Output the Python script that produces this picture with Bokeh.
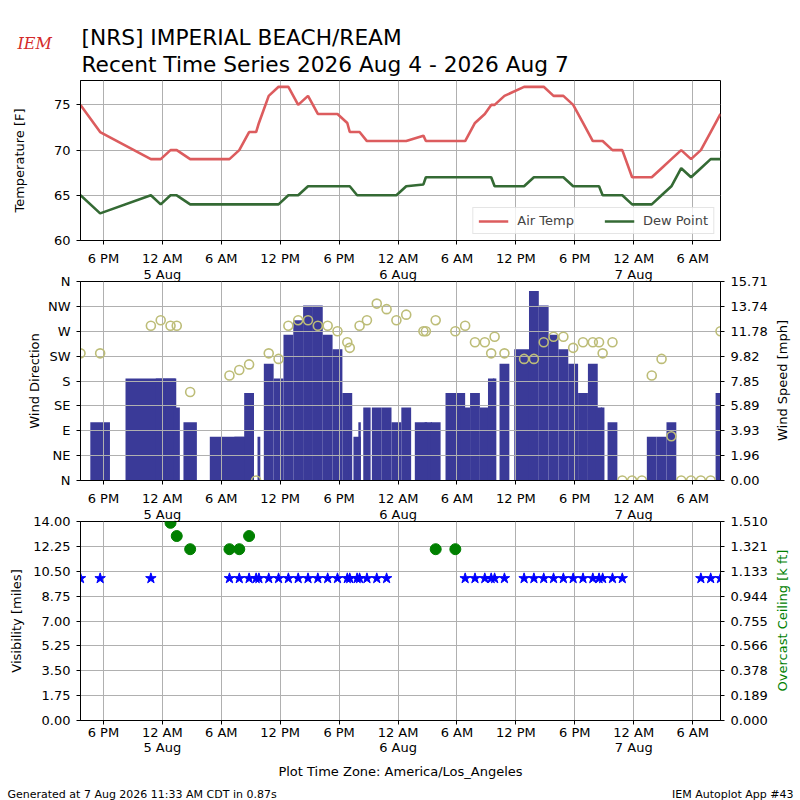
import numpy as np
import pandas as pd
from bokeh.plotting import figure
from bokeh.models import (Range1d, LinearAxis, DatetimeAxis, FixedTicker, PrintfTickFormatter,
                          ColumnDataSource)
from bokeh.layouts import column, row
from bokeh.embed import file_html
from bokeh.resources import INLINE
from bokeh.core.properties import value

nan = float("nan")

# ---------------- texts ----------------
station_title = "[NRS] IMPERIAL BEACH/REAM"
period_title = "Recent Time Series 2026 Aug 4 - 2026 Aug 7"
footer_left = "Generated at 7 Aug 2026 11:33 AM CDT in 0.87s"
footer_right = "IEM Autoplot App #43"
timezone_label = "Plot Time Zone: America/Los_Angeles"

# ---------------- observations (local time) ----------------
obs_time = [
    "2026-08-04 15:40", "2026-08-04 17:40", "2026-08-04 22:50", "2026-08-04 23:50",
    "2026-08-05 00:50", "2026-08-05 01:28", "2026-08-05 02:50", "2026-08-05 06:50",
    "2026-08-05 07:50", "2026-08-05 08:50", "2026-08-05 09:33", "2026-08-05 09:50",
    "2026-08-05 10:50", "2026-08-05 11:50", "2026-08-05 12:50", "2026-08-05 13:50",
    "2026-08-05 14:50", "2026-08-05 15:50", "2026-08-05 16:50", "2026-08-05 17:50",
    "2026-08-05 18:50", "2026-08-05 19:05", "2026-08-05 19:50", "2026-08-05 20:05",
    "2026-08-05 20:50", "2026-08-05 21:50", "2026-08-05 22:50", "2026-08-05 23:50",
    "2026-08-06 00:50", "2026-08-06 02:35", "2026-08-06 02:50", "2026-08-06 03:50",
    "2026-08-06 05:50", "2026-08-06 06:50", "2026-08-06 07:50", "2026-08-06 08:50",
    "2026-08-06 09:29", "2026-08-06 09:50", "2026-08-06 10:50", "2026-08-06 12:50",
    "2026-08-06 13:50", "2026-08-06 14:50", "2026-08-06 15:50", "2026-08-06 16:50",
    "2026-08-06 17:50", "2026-08-06 18:50", "2026-08-06 19:50", "2026-08-06 20:28",
    "2026-08-06 20:50", "2026-08-06 21:50", "2026-08-06 22:50", "2026-08-06 23:50",
    "2026-08-07 00:50", "2026-08-07 01:50", "2026-08-07 02:50", "2026-08-07 03:50",
    "2026-08-07 04:50", "2026-08-07 05:50", "2026-08-07 06:50", "2026-08-07 07:50",
    "2026-08-07 08:50",
]
air_temp = [
    75, 72, 69, 69, 70, 70, 69, 69, 70, 72, 72, 73, 76, 77, 77, 75,
    76, 74, 74, 74, 73, 72, 72, 72, 71, 71, 71, 71, 71, 71.6, 71, 71,
    71, 71, 73, 74, 75, 75, 76, 77, 77, 77, 76, 76, 75, 73, 71, 71,
    71, 70, 70, 67, 67, 67, 68, 69, 70, 69, 70, 72, 74,
]
dew_point = [
    65, 63, 65, 64, 65, 65, 64, 64, 64, 64, 64, 64, 64, 64, 65, 65,
    66, 66, 66, 66, 66, 66, 65, 65, 65, 65, 65, 65, 66, 66.2, 67, 67,
    67, 67, 67, 67, 67, 66, 66, 66, 67, 67, 67, 67, 66, 66, 66, 66,
    65, 65, 65, 64, 64, 64, 65, 66, 68, 67, 68, 69, 69,
]
wind_dir = [
    230, 230, 280, 290, 280, 280, 160, 190, 200, 210, 0, nan, 230, 220, 280, 290,
    290, 280, 280, 270, 250, 240, nan, 280, 290, 320, 310, 290, 300, 270, 270, 290,
    270, 280, 250, 250, 230, 260, 230, 220, 220, 250, 260, 260, 240, 250, 250, 250,
    230, 250, 0, 0, 0, 190, 220, 80, 0, 0, 0, 0, 270,
]
wind_speed_kt = [
    4, 4, 7, 7, 7, 5, 4, 3, 3, 6, 0, 3, 8, 7, 10, 11,
    12, 12, 10, 9, 6, 5, 3, 4, 5, 5, 5, 4, 5, 4, 4, 4,
    6, 5, 6, 5, 7, 7, 8, 9, 13, 12, 10, 9, 8, 6, 8, 5,
    5, 4, 0, 0, 0, 3, 3, 4, 0, 0, 0, 0, 6,
]
visibility_mi = [
    10, 10, 10, nan, nan, nan, nan, 10, 10, 10, 10, 10, 10, 10, 10, 10,
    10, 10, 10, 10, 10, 10, 10, 10, 10, 10, 10, nan, nan, nan, nan, nan,
    nan, 10, 10, 10, 10, 10, 10, 10, 10, 10, 10, 10, 10, 10, 10, 10,
    10, 10, 10, nan, nan, nan, nan, nan, nan, nan, 10, 10, 10,
]
ceiling_kft = [
    nan, nan, nan, nan, 1.5, 1.4, 1.3, 1.3, 1.3, 1.4, nan, nan, nan, nan, nan, nan,
    nan, nan, nan, nan, nan, nan, nan, nan, nan, nan, nan, nan, nan, nan, nan, 1.3,
    1.3, nan, nan, nan, nan, nan, nan, nan, nan, nan, nan, nan, nan, nan, nan, nan,
    nan, nan, nan, nan, nan, nan, nan, nan, nan, nan, nan, nan, nan,
]

# ---------------- axis ticks ----------------
x_tick_times = ["2026-08-04 18:00", "2026-08-05 00:00", "2026-08-05 06:00", "2026-08-05 12:00",
                "2026-08-05 18:00", "2026-08-06 00:00", "2026-08-06 06:00", "2026-08-06 12:00",
                "2026-08-06 18:00", "2026-08-07 00:00", "2026-08-07 06:00"]
x_tick_labels = ["6 PM", "12 AM\n5 Aug", "6 AM", "12 PM", "6 PM", "12 AM\n6 Aug", "6 AM",
                 "12 PM", "6 PM", "12 AM\n7 Aug", "6 AM"]
temp_ticks = [60, 65, 70, 75]
temp_limits = [60, 77.7]
dir_ticks = [0, 45, 90, 135, 180, 225, 270, 315, 360]
dir_labels = ["N", "NE", "E", "SE", "S", "SW", "W", "NW", "N"]
vis_limits = [0, 14]
ceil_limits = [0, 1.5102]

KT_TO_MPH = 1.150779

# ---------------- derived ----------------
t = pd.to_datetime(obs_time)
t_ms = (t.astype("int64") // 10**6).to_numpy().astype(float)
spd_mph = np.array(wind_speed_kt, dtype=float) * KT_TO_MPH
wind_max = float(np.nanmax(spd_mph) * 1.05)
tick_ms = [int(v) for v in (pd.to_datetime(x_tick_times).astype("int64") // 10**6)]
# labels shown above a panel are bottom-anchored: pad one-line labels to two lines
padded_labels = [lab if "\n" in lab else lab + "\n " for lab in x_tick_labels]

src = ColumnDataSource(dict(
    t=t_ms,
    temp=np.array(air_temp, dtype=float),
    dew=np.array(dew_point, dtype=float),
    drct=np.array(wind_dir, dtype=float),
    vis=np.array(visibility_mi, dtype=float),
    ceil=np.array(ceiling_kft, dtype=float),
))
bar_src = ColumnDataSource(dict(
    t=t_ms[1:],
    w=np.diff(t_ms),
    spd=spd_mph[1:],
))

FONT = "DejaVu Sans"
W = 800
SIDE_W = 30
BORDER_L = 80
x_range = Range1d(t_ms[0], t_ms[-1])


def no_align(p):
    try:
        p.frame_align = False
    except Exception:
        pass


def style_axis(ax, standoff_label=6):
    ax.axis_line_color = "black"
    ax.major_tick_line_color = "black"
    ax.minor_tick_line_color = None
    ax.major_tick_out = 4
    ax.major_tick_in = 0
    ax.major_label_standoff = standoff_label
    ax.major_label_text_font = FONT
    ax.major_label_text_font_size = "13px"
    ax.major_label_text_color = "black"
    ax.axis_label_text_font = FONT
    ax.axis_label_text_font_size = "13px"
    ax.axis_label_text_font_style = "normal"
    ax.axis_label_text_color = "black"


def make_panel(width, height, y_range, top, bottom, show_x_labels):
    p = figure(width=width, height=height, x_range=x_range, y_range=y_range,
               x_axis_type="datetime", output_backend="svg", toolbar_location=None,
               title=None, min_border_left=BORDER_L, min_border_right=width - W + BORDER_L,
               min_border_top=top, min_border_bottom=bottom)
    no_align(p)
    p.outline_line_color = "black"
    p.outline_line_alpha = 1
    p.outline_line_width = 1
    xa = p.below[0]
    xa.ticker = FixedTicker(ticks=tick_ms)
    style_axis(xa, 0)
    if show_x_labels:
        xa.major_label_overrides = dict(zip(tick_ms, x_tick_labels))
    else:
        xa.major_label_overrides = {tk: "" for tk in tick_ms}
        xa.major_label_text_font_size = "0px"
    try:
        xa.major_label_text_line_height = 1.05
    except Exception:
        pass
    p.xgrid[0].ticker = xa.ticker
    for g in (p.xgrid[0], p.ygrid[0]):
        g.grid_line_color = "#b0b0b0"
        g.grid_line_width = 1
        g.grid_line_alpha = 1
    return p, xa


def add_upper_time_labels(p):
    """Time labels of the panel above, drawn in the gap above this panel."""
    ax = DatetimeAxis(ticker=FixedTicker(ticks=tick_ms),
                      major_label_overrides=dict(zip(tick_ms, padded_labels)))
    style_axis(ax, 0)
    ax.axis_line_color = None
    ax.major_tick_line_color = None
    ax.major_tick_out = 0
    try:
        ax.major_label_text_line_height = 1.05
    except Exception:
        pass
    p.add_layout(ax, "above")


def blank_fig(width, height):
    f = figure(width=width, height=height, x_range=Range1d(0, width), y_range=Range1d(0, height),
               output_backend="svg", toolbar_location=None, title=None, min_border=0,
               min_border_left=0, min_border_right=0, min_border_top=0, min_border_bottom=0,
               x_axis_location=None, y_axis_location=None)
    no_align(f)
    f.outline_line_color = None
    f.grid.visible = False
    return f


def side_title(height, text, y_center, color):
    """Right-hand axis title, reading bottom to top."""
    s = blank_fig(SIDE_W, height)
    s.text(x=[12], y=[y_center], text=[text], angle=np.pi / 2, text_font=value(FONT),
           text_font_size=value("13px"), text_color=color, text_align="center",
           text_baseline="middle")
    return s


# ---------------- header ----------------
hdr = blank_fig(W, 77)
hdr.text(x=[81, 81], y=[39.7, 13.0], text=[station_title, period_title],
         text_font=value(FONT), text_font_size=value("21.7px"), text_color="black",
         text_align="left", text_baseline="alphabetic")
hdr.text(x=[17], y=[34], text=["IEM"], text_font=value("DejaVu Serif"),
         text_font_style=value("italic"), text_font_size=value("16px"),
         text_color="#d42a2a", text_align="left", text_baseline="alphabetic")

# ---------------- panel 1: temperature ----------------
p1, p1_x = make_panel(W, 170, Range1d(*temp_limits), 3, 7, False)
p1.yaxis[0].ticker = FixedTicker(ticks=temp_ticks)
p1.ygrid[0].ticker = p1.yaxis[0].ticker
p1.yaxis[0].axis_label = "Temperature [F]"
style_axis(p1.yaxis[0])
p1.yaxis[0].axis_label_standoff = 24
p1.line("t", "temp", source=src, line_color="#dc5c5e", line_width=2.6, legend_label="Air Temp")
p1.line("t", "dew", source=src, line_color="#346a34", line_width=2.6, legend_label="Dew Point")
lg = p1.legend[0]
lg.location = "bottom_right"
lg.orientation = "horizontal"
lg.label_text_font = FONT
lg.label_text_font_size = "13px"
lg.glyph_width = 30
lg.glyph_height = 14
lg.label_standoff = 9
lg.spacing = 30
lg.padding = 5
lg.margin = 6
lg.border_line_color = "#cccccc"
lg.background_fill_alpha = 0.8

# ---------------- panel 2: wind ----------------
P2_H = 240
p2, p2_x = make_panel(W - SIDE_W, P2_H, Range1d(0, 360), 33, 7, False)
add_upper_time_labels(p2)
p2.extra_y_ranges = {"spd": Range1d(0, wind_max)}
ya = p2.left[0]
ya.ticker = FixedTicker(ticks=dir_ticks)
ya.major_label_overrides = dict(zip(dir_ticks, dir_labels))
p2.ygrid[0].ticker = ya.ticker
ya.axis_label = "Wind Direction"
style_axis(ya)
ya.axis_label_standoff = 3
spd_ax = LinearAxis(y_range_name="spd", ticker=FixedTicker(ticks=list(np.linspace(0, wind_max, 9))),
                    formatter=PrintfTickFormatter(format="%.2f"))
style_axis(spd_ax)
p2.add_layout(spd_ax, "right")
bars = p2.vbar(x="t", width="w", top="spd", bottom=0, source=bar_src, y_range_name="spd",
               fill_color="#3a3a98", line_color=None)
bars.level = "image"
p2.scatter("t", "drct", source=src, marker="circle", size=9, fill_color=None,
           line_color="#bdbd78", line_width=1.6)
s2 = side_title(P2_H, "Wind Speed [mph]", P2_H - 33 - 100, "black")

# ---------------- panel 3: visibility / ceiling ----------------
P3_H = 296
p3, p3_x = make_panel(W - SIDE_W, P3_H, Range1d(*vis_limits), 33, 63, True)
add_upper_time_labels(p3)
p3.extra_y_ranges = {"ceil": Range1d(*ceil_limits)}
va = p3.left[0]
va.ticker = FixedTicker(ticks=list(np.linspace(vis_limits[0], vis_limits[1], 9)))
va.formatter = PrintfTickFormatter(format="%.2f")
p3.ygrid[0].ticker = va.ticker
va.axis_label = "Visibility [miles]"
style_axis(va)
va.axis_label_standoff = 6
ceil_ax = LinearAxis(y_range_name="ceil",
                     ticker=FixedTicker(ticks=list(np.linspace(ceil_limits[0], ceil_limits[1], 9))),
                     formatter=PrintfTickFormatter(format="%.3f"))
style_axis(ceil_ax)
p3.add_layout(ceil_ax, "right")
p3_x.axis_label = timezone_label
p3_x.axis_label_standoff = 6
p3.scatter("t", "vis", source=src, marker="star", size=11, fill_color="#0000ff", line_color="#0000ff")
p3.scatter("t", "ceil", source=src, marker="circle", size=11, fill_color="#008000",
           line_color="#008000", y_range_name="ceil")
s3 = side_title(P3_H, "Overcast Ceiling [k ft]", P3_H - 33 - 100, "#008000")

# ---------------- footer ----------------
ftr = blank_fig(W, 17)
ftr.text(x=[7], y=[6], text=[footer_left], text_font=value(FONT), text_font_size=value("11px"),
         text_color="black", text_align="left", text_baseline="alphabetic")
ftr.text(x=[793], y=[6], text=[footer_right], text_font=value(FONT), text_font_size=value("11px"),
         text_color="black", text_align="right", text_baseline="alphabetic")

layout = column(hdr, p1, row(p2, s2, spacing=0), row(p3, s3, spacing=0), ftr, spacing=0)
open("out.html", "w").write(file_html(layout, INLINE))
